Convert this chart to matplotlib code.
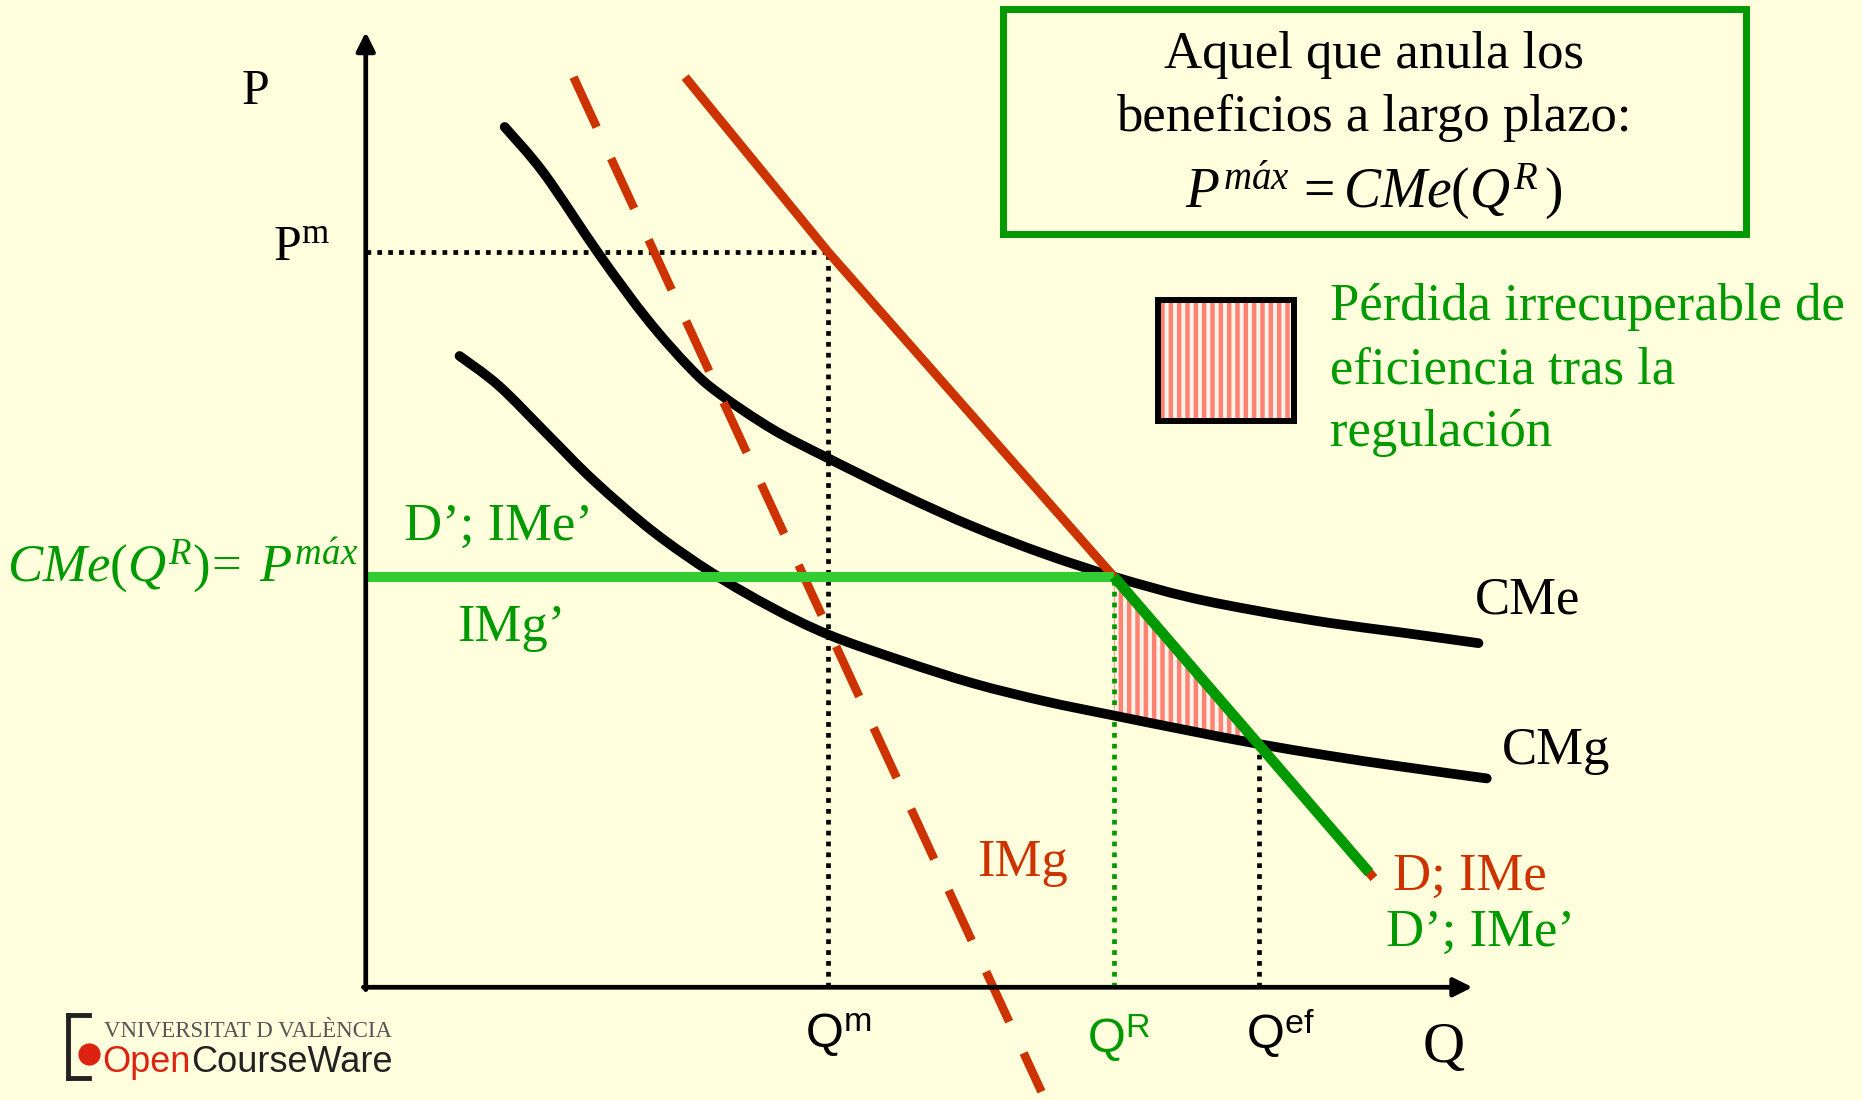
import numpy as np
import matplotlib
matplotlib.use('Agg')
import matplotlib.pyplot as plt
from matplotlib.patches import Rectangle, PathPatch
from matplotlib.path import Path

plt.rcParams['mathtext.fontset'] = 'custom'
plt.rcParams['mathtext.rm'] = 'Liberation Serif'
plt.rcParams['mathtext.it'] = 'Liberation Serif:italic'
plt.rcParams['mathtext.bf'] = 'Liberation Serif:bold'
plt.rcParams['mathtext.sf'] = 'Liberation Sans'
plt.rcParams['hatch.linewidth'] = 3.2

# ---------------- data (Q, P in diagram units) ----------------
cme_q = [1.17, 1.50, 1.97, 2.37, 2.73, 2.98, 3.43, 3.91, 4.52, 5.12, 5.72, 6.30, 6.92, 7.52, 8.12, 8.72, 9.37]
cme_p = [7.25, 6.86, 6.17, 5.63, 5.22, 5.00, 4.70, 4.45, 4.15, 3.88, 3.65, 3.46, 3.29, 3.17, 3.07, 2.99, 2.90]
cmg_q = [0.79, 1.12, 1.52, 1.92, 2.42, 2.92, 3.42, 3.90, 4.52, 5.12, 5.72, 6.30, 6.92, 7.52, 8.12, 8.72, 9.44]
cmg_p = [5.32, 5.07, 4.67, 4.27, 3.84, 3.49, 3.20, 2.97, 2.75, 2.56, 2.41, 2.29, 2.165, 2.05, 1.95, 1.86, 1.76]
dem_q = [2.69, 3.89, 6.30, 8.49]
dem_p = [7.67, 6.20, 3.46, 0.92]
img_q = [1.75, 5.69]
img_p = [7.67, -0.88]
P_m = 6.20
Q_m = 3.89
Q_R = 6.30
Q_ef = 7.52
P_max = 3.46

RED = '#CC3300'
GREEN = '#009900'
LGREEN = '#33CC33'
STRIPE = '#FF8272'
BG = '#FFFFDD'


def smooth_path(xs, ys):
    pts = np.column_stack([xs, ys]).astype(float)
    verts = [pts[0]]
    codes = [Path.MOVETO]
    n = len(pts)
    for i in range(n - 1):
        p0 = pts[i - 1] if i > 0 else pts[i]
        p1 = pts[i]
        p2 = pts[i + 1]
        p3 = pts[i + 2] if i + 2 < n else pts[i + 1]
        verts += [p1 + (p2 - p0) / 6.0, p2 - (p3 - p1) / 6.0, p2]
        codes += [Path.CURVE4] * 3
    return Path(verts, codes)


fig = plt.figure(figsize=(18.62, 11.0), dpi=100)
fig.patch.set_facecolor(BG)
ax = fig.add_axes([0, 0, 1, 1])
ax.set_xlim(-3.08, 12.60)
ax.set_ylim(-0.95, 8.32)
ax.axis('off')

# hatched deadweight loss region
qq = np.linspace(Q_R, Q_ef, 60)
upper = np.interp(qq, dem_q, dem_p)
lower = np.interp(qq, cmg_q, cmg_p)
ax.fill_between(qq, lower, upper, facecolor='#FFF4EA', edgecolor=STRIPE,
                hatch='||', linewidth=0, zorder=2)

# dotted guides
ax.plot([0, Q_m], [P_m, P_m], color='black', lw=3.4, ls=(0, (1, 1.3)), zorder=3)
ax.plot([Q_m, Q_m], [0, P_m], color='black', lw=3.4, ls=(0, (1, 1.3)), zorder=3)
ax.plot([Q_ef, Q_ef], [0, np.interp(Q_ef, cmg_q, cmg_p)], color='black', lw=3.4,
        ls=(0, (1, 1.3)), zorder=3)
ax.plot([Q_R, Q_R], [0, P_max], color=GREEN, lw=3.4, ls=(0, (1, 1.3)), zorder=3)

# cost curves (smooth)
for qs, ps in [(cme_q, cme_p), (cmg_q, cmg_p)]:
    ax.add_patch(PathPatch(smooth_path(qs, ps), fill=False, edgecolor='black', lw=7.0,
                           capstyle='round', joinstyle='round', zorder=4))

# demand (red) and marginal revenue (dashed)
ax.plot(dem_q, dem_p, color=RED, lw=6.5, solid_capstyle='butt', zorder=5)
ax.plot(img_q, img_p, color=RED, lw=6.2, ls=(0, (6.4, 4)), dash_capstyle='butt', zorder=5)

# regulated demand (green)
ax.plot([0, Q_R], [P_max, P_max], color=LGREEN, lw=7.2, solid_capstyle='butt', zorder=6)
dq = [Q_R] + [q for q in dem_q if q > Q_R]
dp = [P_max] + [p for q, p in zip(dem_q, dem_p) if q > Q_R]
dq[-1] -= 0.04
dp[-1] = np.interp(dq[-1], dem_q, dem_p)
ax.plot(dq, dp, color=GREEN, lw=7.6, solid_capstyle='butt', zorder=6)

# axes with arrows
ax.annotate('', xy=(0, 8.05), xytext=(0, -0.02),
            arrowprops=dict(arrowstyle='-|>', lw=3.4, color='black', mutation_scale=28,
                            shrinkA=0, shrinkB=0), zorder=7)
ax.annotate('', xy=(9.32, 0), xytext=(-0.02, 0),
            arrowprops=dict(arrowstyle='-|>', lw=3.4, color='black', mutation_scale=28,
                            shrinkA=0, shrinkB=0), zorder=7)

SER = 'Liberation Serif'
SAN = 'Liberation Sans'
FS = 38

# axis labels
ax.text(-0.93, 7.44, 'P', fontsize=36, family=SER, ha='center', va='baseline')
ax.text(-0.78, 6.12, r'P$^{\mathrm{m}}$', fontsize=36, family=SER, ha='left', va='baseline')
ax.text(9.08, -0.63, 'Q', fontsize=42, family=SER, ha='center', va='baseline')
ax.text(3.98, -0.50, r'Q$^{\mathsf{m}}$', fontsize=35, family=SAN, ha='center', va='baseline')
ax.text(6.34, -0.55, r'Q$^{\mathsf{R}}$', fontsize=35, family=SAN, ha='center', va='baseline', color=GREEN)
ax.text(7.70, -0.52, r'Q$^{\mathsf{ef}}$', fontsize=35, family=SAN, ha='center', va='baseline')

# curve labels
ax.text(9.34, 3.15, 'CMe', fontsize=FS, family=SER, ha='left', va='baseline')
ax.text(9.57, 1.88, 'CMg', fontsize=FS, family=SER, ha='left', va='baseline')
ax.text(5.15, 0.94, 'IMg', fontsize=FS, family=SER, ha='left', va='baseline', color=RED)
ax.text(8.65, 0.82, 'D; IMe', fontsize=FS, family=SER, ha='left', va='baseline', color=RED)
ax.text(8.59, 0.35, 'D\u2019; IMe\u2019', fontsize=FS, family=SER, ha='left', va='baseline', color=GREEN)
ax.text(0.32, 3.77, 'D\u2019; IMe\u2019', fontsize=FS, family=SER, ha='left', va='baseline', color=GREEN)
ax.text(0.77, 2.92, 'IMg\u2019', fontsize=FS, family=SER, ha='left', va='baseline', color=GREEN)
ax.text(-3.02, 3.42, r'$CMe(Q^{R})\!=\;P^{m\acute{a}x}$', fontsize=38, ha='left',
        va='baseline', color=GREEN)

# top box
ax.add_patch(Rectangle((5.37, 6.35), 6.25, 1.89, facecolor='none', edgecolor=GREEN,
                       lw=5, zorder=8))
ax.text(8.49, 7.75, 'Aquel que anula los', fontsize=FS, family=SER, ha='center', va='baseline')
ax.text(8.49, 7.22, 'beneficios a largo plazo:', fontsize=FS, family=SER, ha='center', va='baseline')
ax.text(8.49, 6.57, r'$P^{m\acute{a}x}\,=CMe(Q^{R}\,)$', fontsize=40, ha='center', va='baseline')

# legend swatch
ax.add_patch(Rectangle((6.67, 4.77), 1.15, 1.02, facecolor='#FFF4EA', edgecolor=STRIPE,
                       hatch='||', lw=0, zorder=8))
ax.add_patch(Rectangle((6.67, 4.77), 1.15, 1.02, facecolor='none', edgecolor='black',
                       lw=4.3, zorder=9))
for i, line in enumerate(['P\u00e9rdida irrecuperable de', 'eficiencia tras la', 'regulaci\u00f3n']):
    ax.text(8.12, 5.62 - 0.53 * i, line, fontsize=FS, family=SER, ha='left',
            va='baseline', color=GREEN)

# logo
fig.add_artist(plt.Line2D([0.0365, 0.0365], [0.020, 0.077], color='#222222', lw=3.5))
fig.add_artist(plt.Line2D([0.0365, 0.048], [0.077, 0.077], color='#222222', lw=3.5))
fig.add_artist(plt.Line2D([0.0365, 0.048], [0.020, 0.020], color='#222222', lw=3.5))
fig.add_artist(plt.Line2D([0.048], [0.042], marker='o', ms=15, color='#DD2211', mec='#DD2211'))
fig.text(0.056, 0.057, 'VNIVERSITAT D VAL\u00c8NCIA', fontsize=16.5, family=SER,
         color='#555555', ha='left', va='baseline')
t1 = fig.text(0.055, 0.025, 'Open', fontsize=26, family=SAN, color='#DD2211',
              ha='left', va='baseline')
ax.annotate('CourseWare', xy=(1, 0), xycoords=t1, fontsize=26, family=SAN,
            color='#222222', ha='left', va='bottom', annotation_clip=False)

fig.savefig('out.png', dpi=100, facecolor=BG)
